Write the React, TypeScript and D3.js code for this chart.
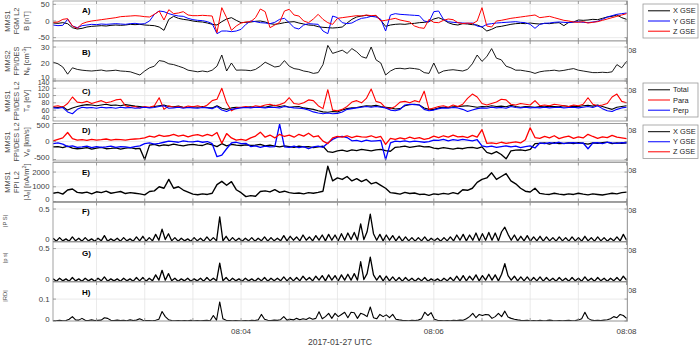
import React from 'react';
import * as d3 from 'd3';

// ---------- time axis (seconds after 08:02:00 UTC) ----------
const T_START = 3;
const T_END = 360;
const X_DOMAIN = [2.9, 360.6];
const GRID_TIMES = [30, 60, 90, 120, 150, 180, 210, 240, 270, 300, 330, 360];
const X_LABEL_TIMES = [120, 240, 360];
const X_LABELS = ['08:04', '08:06', '08:08'];
const X_TITLE = '2017-01-27 UTC';

// ---------- A) B field GSE [nT] ----------
const bX = [-6,-7,-5,-8,-20,-24,-22,-18,-16,-15,
 -14,-15,-13,-12,-13,-12,-10,-11,-10,-12,
 -13,-14,-18,-28,5,14,8,5,3,0,
 -2,-3,-6,-10,-12,-2,6,10,2,-5,
 -4,-3,-1,0,-3,-8,-10,-8,-5,-3,
 -2,-6,-9,-12,-13,-17,-19,-20,-21,-20,
 -18,-6,5,12,15,17,14,16,2,-16,
 -12,-10,-9,-10,-8,-7,-5,-4,-2,6,
 10,4,-5,-10,-12,-8,-9,-11,-12,-18,
 -30,-25,-18,-16,-13,-10,-8,-7,-8,-6,
 -8,-9,-7,-8,-6,-5,-14,-4,-3,3,
 2,3,5,4,8,12,14,18,10,5];
const bY = [-12,-14,-13,5,-15,-20,-14,-12,-10,-11,
 -9,-10,-9,-8,-9,-10,-8,-7,-9,-8,
 0,20,30,28,22,18,15,14,8,4,
 2,1,-2,-8,-38,-30,-30,-32,-30,-25,
 -10,0,-2,-5,-6,-8,-4,5,8,-5,
 -20,-24,-12,-8,-9,-10,-30,-38,15,10,
 -5,-8,-6,2,8,10,14,12,5,-30,
 18,22,20,19,18,17,16,0,-3,28,
 30,5,-2,-4,-5,-6,-7,-6,-15,-18,
 -10,-8,-6,-5,-4,-3,-2,-4,-5,-10,
 -22,-10,-7,-6,-4,-3,-4,-5,-3,-2,
 -4,-5,-3,-1,5,12,16,20,22,24];
const bZ = [-4,-3,5,7,-15,-22,-8,-3,0,2,
 4,6,8,10,13,14,15,16,15,13,
 12,20,30,3,34,22,24,28,18,16,
 16,17,16,15,-35,40,10,-28,-15,-6,
 -3,-2,10,36,28,-20,-12,-4,30,35,
 18,15,0,-5,6,20,5,-5,-10,8,
 10,12,14,16,15,18,16,17,0,2,
 5,8,3,0,-3,-15,-20,-22,5,-4,
 -5,2,6,4,-5,-8,-6,-8,0,40,
 -15,-18,0,2,5,8,10,12,14,16,
 18,10,12,14,10,6,2,0,-3,-4,
 -2,-6,-4,-2,2,6,10,14,18,22];

// ---------- B) electron density [cm^-3] ----------
const ne = [20.5,19.5,17.5,13,17,16,15.5,15.2,15,15.3,
 15.6,15,15.2,15.5,15,14.8,14.5,13.5,12.5,15,
 17,18,21.5,21,19.5,19,18,17,15.5,15,
 14.5,15,14.5,15.5,18,25,15,20,15.5,15.6,
 15.5,15.2,16,18,20.5,19,17.5,18,21.5,18,
 16.5,16,15,14.5,13.5,14,19,31,26,27,
 28,26,29,27,24,23,30,22,20,12.5,
 15,16.5,16.7,16.3,16.8,16.5,16,14,13.5,20,
 13.5,15,15.5,15.8,15.4,15,16,19.5,25,21,
 24,29,23,22,18,17,15.5,15.5,15,14.5,
 13.5,14.5,15,15.2,15.5,15,15.4,16,16.5,15.5,
 15,14.5,14,14,14.2,14,14.5,19,17,21];

// ---------- C) electron temperature [eV] ----------
const teTotal = [68,67,69,60,66,70,
 73,75,74,72,74,76,73,74,72,75,73,71,70,
 68,67,70,72,74,70,69,71,68,67,69,
 68,70,67,66,72,65,62,66,68,67,
 68,69,67,70,68,71,73,70,72,68,69,70,66,64,62,58,55,
 54,56,55,60,64,66,67,70,72,71,
 73,70,68,66,63,64,72,75,76,74,66,62,
 62,66,68,67,69,70,71,72,70,68,70,69,72,70,71,69,73,70,68,70,69,
 68,70,69,71,70,69,72,70,71,70,72,73,71,74,70,66,62,68,70,72];
const tePara = [70,72,68,78,96,82,80,84,78,82,
 86,80,83,88,90,72,68,70,66,70,
 68,72,94,62,72,68,70,67,71,69,
 72,68,74,86,90,120,80,58,66,68,
 70,67,72,70,74,76,72,75,80,94,
 78,76,80,88,86,72,64,116,60,58,
 62,70,82,86,80,92,118,84,80,66,
 64,70,82,84,80,86,82,112,62,66,
 70,72,68,74,70,76,92,104,96,78,
 74,78,82,90,88,76,74,78,76,74,
 86,72,74,72,76,74,72,70,74,72,
 76,94,76,72,74,78,96,104,84,80];
const tePerp = [66,65,67,55,50,62,
 68,66,67,65,68,66,67,65,68,66,67,65,66,
 68,66,67,70,72,65,66,68,65,67,66,
 65,67,66,64,70,60,56,62,64,66,
 67,66,68,67,66,68,67,66,70,68,66,65,64,60,55,52,50,
 52,50,51,55,62,64,66,68,70,68,
 70,68,66,60,58,62,74,76,75,74,62,58,
 60,64,66,65,67,66,62,56,60,64,66,65,68,66,67,65,70,67,66,68,66,
 67,66,68,66,67,68,66,67,68,66,68,70,67,72,64,58,56,62,66,68];

// ---------- D) electron velocity GSE [km/s] ----------
const veX = [-150,-140,-170,-130,-180,-200,
 -190,-170,-210,-180,-160,-200,-190,-175,-210,-185,-170,-200,-190,
 -500,
 -100,-80,-120,-90,-110,-70,-100,-120,-90,-80,
 -100,-110,-60,-90,-140,-60,-120,-80,-100,-110,
 -90,-110,-100,-80,-120,-100,-130,-150,-120,-140,
 -160,-130,-150,-140,-170,-150,-130,-280,
 -300,-260,-240,-270,-230,-250,-220,-240,-260,-230,-220,
 -250,-270,-160,-150,-130,-160,-140,-120,-150,-140,
 -180,-200,-170,-190,-210,-180,-200,-170,-160,-190,-150,
 -300,-340,-280,-360,-480,-260,-240,-230,-250,-220,
 -60,-50,-40,-70,-30,-60,-50,-40,-60,-30,-50,-70,-40,-50,-30,-20,-60,-40,-50,-40];
const veY = [-60,-40,-70,-140,-120,-160,
 -150,-130,-170,-140,-160,-150,-130,-160,-140,-150,-170,-140,-120,
 -60,-40,-70,-50,-20,10,0,-20,20,0,-10,
 10,-20,0,-60,-420,-380,-200,-40,-20,-60,
 -50,-140,-120,-160,-130,-150,-140,480,-150,-160,
 -130,-170,-140,-200,-150,-130,-160,-40,
 60,120,140,110,20,30,0,40,10,20,30,
 -500,-40,10,0,20,-10,10,0,-20,0,
 40,30,60,20,50,30,60,40,20,50,-120,
 -150,-130,-160,-140,-120,-150,-130,-170,-140,-120,
 -180,-40,-60,-30,-50,-20,-60,-40,-30,-50,-40,-200,-40,-30,-60,-20,-40,-50,-30,-40];
const veZ = [20,60,100,250,80,40,
 50,30,60,40,50,70,40,60,50,40,60,70,80,
 100,150,120,180,140,160,200,150,180,130,170,
 190,150,200,160,250,-50,220,100,40,60,
 30,100,150,260,120,180,100,200,140,180,
 120,200,150,230,130,160,10,-60,
 100,140,120,160,110,150,130,120,160,110,140,
 -80,90,60,100,70,120,80,110,60,90,
 150,110,160,120,180,130,140,110,170,120,330,
 -50,-40,-60,-20,-50,-30,-10,-40,50,380,
 110,90,140,100,160,80,120,150,90,130,100,200,140,90,130,110,170,120,100,80];

// ---------- E) |J_e| [nA/m^2] ----------
const je = [560,620,500,780,850,620,
 580,640,520,660,600,700,560,620,680,540,600,560,520,
 450,680,720,1000,900,1500,
 900,1000,780,640,500,460,520,480,560,
 1150,1370,1100,1350,800,
 600,330,400,360,680,720,650,800,620,700,600,
 550,580,520,600,560,620,700,2400,
 1400,1600,1500,1700,1400,1550,1350,1500,1200,1300,1100,
 900,600,560,500,620,540,580,480,500,420,
 520,480,550,500,600,520,800,760,900,1300,1500,
 1600,1950,1500,1700,1900,1400,1200,900,700,650,
 900,550,500,480,560,500,460,520,480,560,500,450,520,480,440,500,560,520,600,640];

// ---------- F) |P S| ----------
const fPS = [0.05,0.005,0.06,0.01,0.04,0.005,0.07,0.01,0.05,0.005,
 0.06,0.01,0.04,0.005,0.05,0.01,0.09,0.005,0.04,0.01,
 0.05,0.005,0.06,0.01,0.04,0.005,0.07,0.01,0.08,0.005,
 0.06,0.01,0.11,0.02,0.19,0.03,0.12,0.01,0.06,0.005,
 0.05,0.01,0.04,0.005,0.06,0.01,0.05,0.005,0.07,0.01,
 0.06,0.01,0.38,0.01,0.08,0.005,0.06,0.01,0.05,0.005,
 0.05,0.01,0.06,0.005,0.05,0.01,0.07,0.005,0.06,0.01,
 0.05,0.01,0.09,0.01,0.08,0.02,0.07,0.01,0.10,0.02,
 0.07,0.01,0.09,0.02,0.10,0.01,0.11,0.02,0.10,0.01,
 0.12,0.02,0.13,0.03,0.14,0.02,0.27,0.03,0.15,0.42,
 0.12,0.02,0.11,0.01,0.10,0.02,0.09,0.01,0.08,0.005,
 0.07,0.01,0.06,0.005,0.06,0.01,0.07,0.005,0.05,0.01,
 0.05,0.005,0.06,0.01,0.07,0.01,0.10,0.02,0.11,0.01,
 0.10,0.02,0.13,0.01,0.12,0.02,0.14,0.02,0.13,0.01,
 0.15,0.22,0.11,0.02,0.10,0.01,0.08,0.01,0.09,0.005,
 0.07,0.01,0.08,0.005,0.07,0.01,0.06,0.005,0.07,0.01,
 0.06,0.005,0.07,0.01,0.06,0.005,0.08,0.01,0.06,0.005,
 0.07,0.01,0.06,0.005,0.05,0.01,0.07,0.01,0.11,0.02];

// ---------- G) |p s| ----------
const gPS = [0.04,0.005,0.05,0.01,0.04,0.005,0.06,0.01,0.04,0.005,
 0.05,0.01,0.04,0.005,0.05,0.01,0.07,0.005,0.04,0.01,
 0.04,0.005,0.05,0.01,0.04,0.005,0.06,0.01,0.06,0.005,
 0.05,0.01,0.10,0.02,0.17,0.02,0.12,0.01,0.05,0.005,
 0.04,0.01,0.05,0.005,0.04,0.01,0.05,0.005,0.06,0.01,
 0.05,0.01,0.28,0.01,0.06,0.005,0.05,0.01,0.04,0.005,
 0.05,0.01,0.04,0.005,0.05,0.01,0.06,0.005,0.05,0.01,
 0.05,0.01,0.07,0.01,0.06,0.01,0.06,0.01,0.08,0.02,
 0.06,0.01,0.08,0.02,0.09,0.01,0.10,0.02,0.09,0.01,
 0.10,0.02,0.11,0.02,0.12,0.02,0.30,0.03,0.12,0.37,
 0.10,0.02,0.09,0.01,0.08,0.01,0.07,0.01,0.06,0.005,
 0.06,0.01,0.05,0.005,0.05,0.01,0.06,0.005,0.04,0.01,
 0.04,0.005,0.05,0.01,0.06,0.01,0.08,0.01,0.09,0.01,
 0.08,0.02,0.10,0.01,0.09,0.02,0.11,0.02,0.10,0.01,
 0.11,0.27,0.09,0.02,0.08,0.01,0.07,0.01,0.07,0.005,
 0.06,0.01,0.07,0.005,0.06,0.01,0.05,0.005,0.06,0.01,
 0.05,0.005,0.06,0.01,0.05,0.005,0.07,0.01,0.05,0.005,
 0.06,0.01,0.05,0.005,0.05,0.01,0.06,0.01,0.08,0.02];

// ---------- H) |RD| ----------
const hRD = [0.002,0.001,0.003,0.001,0.002,0.008,0.02,0.005,0.004,0.012,
 0.003,0.002,0.005,0.002,0.003,0.004,0.015,0.012,0.003,0.002,
 0.004,0.002,0.003,0.001,0.005,0.002,0.004,0.01,0.003,0.002,
 0.002,0.001,0.003,0.008,0.043,0.02,0.006,0.002,0.001,0.002,
 0.001,0.002,0.001,0.003,0.001,0.002,0.001,0.002,0.003,0.001,
 0.025,0.004,0.087,0.01,0.003,0.002,0.001,0.002,0.001,0.001,
 0.002,0.001,0.003,0.002,0.005,0.03,0.008,0.003,0.002,0.004,
 0.003,0.006,0.02,0.004,0.008,0.005,0.012,0.006,0.01,0.007,
 0.015,0.008,0.012,0.042,0.01,0.02,0.035,0.012,0.035,0.02,
 0.03,0.04,0.015,0.04,0.038,0.012,0.035,0.03,0.02,0.064,
 0.015,0.01,0.03,0.02,0.028,0.015,0.03,0.008,0.005,0.003,
 0.002,0.001,0.003,0.002,0.004,0.01,0.04,0.025,0.038,0.008,
 0.003,0.002,0.001,0.002,0.001,0.003,0.002,0.004,0.003,0.01,
 0.02,0.035,0.015,0.03,0.025,0.03,0.028,0.012,0.02,0.035,
 0.02,0.045,0.018,0.012,0.008,0.005,0.003,0.002,0.003,0.001,
 0.002,0.001,0.003,0.001,0.002,0.004,0.002,0.001,0.002,0.001,
 0.002,0.003,0.001,0.002,0.005,0.01,0.04,0.012,0.004,0.002,
 0.003,0.002,0.004,0.006,0.01,0.02,0.015,0.03,0.025,0.012];

// ---------- tick values ----------
const TICKS_A = [-50, 0, 50];
const TICKS_B = [10, 20, 30];
const TICKS_C = [40, 60, 80, 100, 120, 140];
const TICKS_D = [-500, 0, 500];
const TICKS_E = [0, 1000, 2000];
const TICKS_F = [0, 0.5];
const TICKS_G = [0, 0.5];
const TICKS_H = [0, 0.1];

const GSE_LEGEND = ['X GSE', 'Y GSE', 'Z GSE'];
const TEMP_LEGEND = ['Total', 'Para', 'Perp'];

// ---------- layout / style ----------
const FONT = '"Liberation Sans", Arial, Helvetica, sans-serif';
const PLOT_L = 53;
const PLOT_R = 627.5;
const BLACK = '#000000';
const BLUE = '#0000ff';
const RED = '#ff0000';
const AXIS = '#8a8a8a';
const TICKC = '#404040';
const GRID = '#e4e4e4';
const LABC = '#4a4a4a';

const YFS = 7.4;
const SFS = 5.4;

const PANELS = [
  {
    id: 'A', y0: 1, y1: 41, domain: [-60, 60], ticks: TICKS_A, tfs: 7.8, letter: 'A)', letterY: 13, cy: 21,
    series: [{ d: bX, c: BLACK }, { d: bY, c: BLUE }, { d: bZ, c: RED }], sw: 1,
    ylabel: [<>MMS1</>, <>FGM L2</>, <>B [nT]</>], small: false,
  },
  {
    id: 'B', y0: 41, y1: 81, domain: [8.75, 33.75], ticks: TICKS_B, tfs: 7.8, letter: 'B)', letterY: 55, cy: 61,
    series: [{ d: ne, c: BLACK }], sw: 0.9,
    ylabel: [
      <>MMS2</>,
      <>FPI/DES</>,
      <>N<tspan dy={1.6} fontSize={SFS}>e</tspan><tspan dy={-1.6}> [cm</tspan><tspan dy={-2.6} fontSize={SFS}>-3</tspan><tspan dy={2.6}>]</tspan></>,
    ],
    small: false,
  },
  {
    id: 'C', y0: 81, y1: 121, domain: [30, 140], ticks: TICKS_C, tfs: 7.1, letter: 'C)', letterY: 94, cy: 101,
    series: [{ d: teTotal, c: BLACK }, { d: tePara, c: RED }, { d: tePerp, c: BLUE }], sw: 1.1,
    ylabel: [
      <>MMS1</>,
      <>FPI/DES L2</>,
      <>T<tspan dy={1.6} fontSize={SFS}>e</tspan><tspan dy={-1.6}> [eV]</tspan></>,
    ],
    small: false,
  },
  {
    id: 'D', y0: 123.5, y1: 161, domain: [-540, 500], ticks: TICKS_D, tfs: 7.8, letter: 'D)', letterY: 133, cy: 142,
    series: [{ d: veX, c: BLACK }, { d: veY, c: BLUE }, { d: veZ, c: RED }], sw: 1.3,
    ylabel: [
      <>MMS1</>,
      <>FPI/DES L2</>,
      <>V<tspan dy={1.6} fontSize={SFS}>e</tspan><tspan dy={-1.6}> [km/s]</tspan></>,
    ],
    small: false,
  },
  {
    id: 'E', y0: 162.5, y1: 201.5, domain: [0, 2650], ticks: TICKS_E, tfs: 7.8, letter: 'E)', letterY: 175, cy: 182,
    series: [{ d: je, c: BLACK }], sw: 1.4,
    ylabel: [
      <>MMS1</>,
      <>FPI L2</>,
      <>|J<tspan dy={1.6} fontSize={SFS}>e</tspan><tspan dy={-1.6}>| [nA/m</tspan><tspan dy={-2.6} fontSize={SFS}>2</tspan><tspan dy={2.6}>]</tspan></>,
    ],
    small: false,
  },
  {
    id: 'F', y0: 202.5, y1: 241.5, domain: [0, 0.6], ticks: TICKS_F, tfs: 7.8, letter: 'F)', letterY: 214, cy: 221,
    series: [{ d: fPS, c: BLACK }], sw: 1.3,
    ylabel: [<>|P S|</>], small: true,
  },
  {
    id: 'G', y0: 242, y1: 281.5, domain: [0, 0.6], ticks: TICKS_G, tfs: 7.8, letter: 'G)', letterY: 256, cy: 258,
    series: [{ d: gPS, c: BLACK }], sw: 1.3,
    ylabel: [<>|p s|</>], small: true,
  },
  {
    id: 'H', y0: 282, y1: 321, domain: [0, 0.178], ticks: TICKS_H, tfs: 7.8, letter: 'H)', letterY: 295, cy: 296,
    series: [{ d: hRD, c: BLACK }], sw: 1.1,
    ylabel: [<>|RD|</>], small: true,
  },
];

const LEGENDS = [
  { top: 4, bottom: 38, names: GSE_LEGEND, colors: [BLACK, BLUE, RED] },
  { top: 83, bottom: 117, names: TEMP_LEGEND, colors: [BLACK, RED, BLUE] },
  { top: 125, bottom: 158.5, names: GSE_LEGEND, colors: [BLACK, BLUE, RED] },
];

export default function App() {
  const x = d3.scaleLinear().domain(X_DOMAIN).range([PLOT_L, PLOT_R]);
  const tFor = (n: number) => (i: number) => T_START + (i * (T_END - T_START)) / (n - 1);

  return (
    <div style={{ position: 'absolute', left: 0, top: 0 }}>
      <svg width={700} height={347} style={{ display: 'block', fontFamily: FONT }}>
        <rect width={700} height={347} fill="#ffffff" />
        <defs>
          {PANELS.map((p) => (
            <clipPath id={`clip-${p.id}`} key={p.id}>
              <rect x={PLOT_L} y={p.y0} width={PLOT_R - PLOT_L} height={p.y1 - p.y0} />
            </clipPath>
          ))}
          <clipPath id="clip-right">
            <rect x={628.6} y={0} width={20} height={347} />
          </clipPath>
        </defs>

        {PANELS.map((p) => {
          const y = d3.scaleLinear().domain(p.domain).range([p.y1, p.y0]);
          const labelY = (v: number) => {
            const yy = y(v);
            if (yy - p.y0 < 3) return yy + 2;
            if (p.y1 - yy < 3) return yy - 2;
            return yy;
          };
          return (
            <g key={p.id}>
              <rect x={PLOT_L} y={p.y0} width={PLOT_R - PLOT_L} height={p.y1 - p.y0} fill="#ffffff" />
              {GRID_TIMES.map((t) => (
                <line key={`gx${t}`} x1={x(t)} x2={x(t)} y1={p.y0} y2={p.y1} stroke={GRID} strokeWidth={0.8} />
              ))}
              {p.ticks.map((v) => (
                <line key={`gy${v}`} x1={PLOT_L} x2={PLOT_R} y1={y(v)} y2={y(v)} stroke={GRID} strokeWidth={0.8} />
              ))}
              <g clipPath={`url(#clip-${p.id})`}>
                {p.series.map((s, k) => {
                  const tf = tFor(s.d.length);
                  const line = d3
                    .line<number>()
                    .x((_, i) => x(tf(i)))
                    .y((v) => y(v));
                  return (
                    <path key={k} d={line(s.d) || ''} fill="none" stroke={s.c} strokeWidth={p.sw} strokeLinejoin="round" />
                  );
                })}
              </g>
              <rect x={PLOT_L} y={p.y0} width={PLOT_R - PLOT_L} height={p.y1 - p.y0} fill="none" stroke={AXIS} strokeWidth={0.8} />
              {GRID_TIMES.map((t) => (
                <g key={`tx${t}`}>
                  <line x1={x(t)} x2={x(t)} y1={p.y1} y2={p.y1 - 3} stroke={AXIS} strokeWidth={0.8} />
                  <line x1={x(t)} x2={x(t)} y1={p.y0} y2={p.y0 + 3} stroke={AXIS} strokeWidth={0.8} />
                </g>
              ))}
              {p.ticks.map((v) => (
                <g key={`ty${v}`}>
                  <line x1={PLOT_L} x2={PLOT_L + 3} y1={y(v)} y2={y(v)} stroke={AXIS} strokeWidth={0.8} />
                  <line x1={PLOT_R} x2={PLOT_R - 3} y1={y(v)} y2={y(v)} stroke={AXIS} strokeWidth={0.8} />
                  <text x={49.5} y={labelY(v)} dy="0.34em" textAnchor="end" fontSize={p.tfs} fill={TICKC}>
                    {String(v)}
                  </text>
                </g>
              ))}
              <text x={82} y={p.letterY} fontSize={8} fontWeight="bold" fill="#000">
                {p.letter}
              </text>
              {p.small ? (
                <text transform={`translate(6.5,${p.cy}) rotate(-90)`} textAnchor="middle" fontSize={5.8} fill={LABC}>
                  {p.ylabel[0]}
                </text>
              ) : (
                p.ylabel.map((lab, k) => (
                  <text
                    key={k}
                    transform={`translate(${10 + k * 9.3},${p.cy}) rotate(-90)`}
                    textAnchor="middle"
                    fontSize={YFS}
                    fill={LABC}
                  >
                    {lab}
                  </text>
                ))
              )}
            </g>
          );
        })}

        {/* hidden x tick labels of upper panels peeking out on the right */}
        <g clipPath="url(#clip-right)">
          {PANELS.slice(0, 7).map((p) => (
            <text key={`hx${p.id}`} x={x(X_LABEL_TIMES[2])} y={p.y1 + 11.5} textAnchor="middle" fontSize={8} fill={TICKC}>
              {X_LABELS[2]}
            </text>
          ))}
        </g>

        {/* bottom x axis labels */}
        {X_LABEL_TIMES.map((t, i) => (
          <text key={`xl${t}`} x={x(t)} y={334} textAnchor="middle" fontSize={8} fill={TICKC}>
            {X_LABELS[i]}
          </text>
        ))}
        <text x={340} y={345} textAnchor="middle" fontSize={8.6} fill={TICKC}>
          {X_TITLE}
        </text>

        {/* legends */}
        {LEGENDS.map((L, li) => {
          const h = L.bottom - L.top;
          return (
            <g key={`lg${li}`}>
              <rect x={643} y={L.top} width={55} height={h} fill="#ffffff" stroke="#9a9a9a" strokeWidth={0.8} />
              {L.names.map((n, k) => {
                const yy = L.top + h * (0.2 + 0.3 * k);
                return (
                  <g key={n + k}>
                    <line x1={648} x2={670} y1={yy} y2={yy} stroke={L.colors[k]} strokeWidth={1} />
                    <text x={673} y={yy} dy="0.35em" fontSize={7.4} fill="#222">
                      {n}
                    </text>
                  </g>
                );
              })}
            </g>
          );
        })}
      </svg>
    </div>
  );
}
